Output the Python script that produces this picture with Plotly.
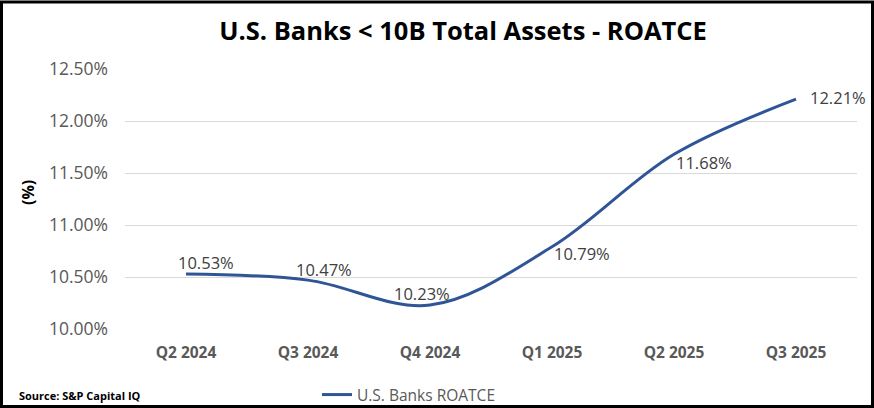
import plotly.graph_objects as go

quarters = ["Q2 2024", "Q3 2024", "Q4 2024", "Q1 2025", "Q2 2025", "Q3 2025"]
roatce = [10.53, 10.47, 10.23, 10.79, 11.68, 12.21]
label_texts = ["10.53%", "10.47%", "10.23%", "10.79%", "11.68%", "12.21%"]
y_ticks = [10.0, 10.5, 11.0, 11.5, 12.0, 12.5]

# label offsets in pixels (style only)
label_dx = [20, 16, -8, 30, 30, 42]
label_dy = [11, 11, 12, -7, -8, 2]

W, H = 874, 408
L, R, T, B = 125, 17, 69, 79
PW, PH = W - L - R, H - T - B

FONT = "Open Sans"
LINE_COLOR = "#2F5597"

fig = go.Figure()
fig.add_trace(go.Scatter(
    x=quarters, y=roatce, mode="lines",
    line=dict(color=LINE_COLOR, width=3, shape="spline", smoothing=1.0),
    name="U.S. Banks ROATCE",
))

for q, v, t, dx, dy in zip(quarters, roatce, label_texts, label_dx, label_dy):
    fig.add_annotation(x=q, y=v, xref="x", yref="y", text=t, showarrow=False,
                       xshift=dx, yshift=dy,
                       font=dict(family=FONT, size=16.5, color="#404040"))

def px_x(p):
    return (p - L) / PW

def px_y(p):
    return (H - B - p) / PH

fig.add_annotation(xref="paper", yref="paper", x=px_x(28), y=px_y(193),
                   xanchor="center", yanchor="middle",
                   text="<b>(%)</b>", textangle=-90, showarrow=False,
                   font=dict(family=FONT, size=16, color="#000000"))
fig.add_annotation(xref="paper", yref="paper", x=px_x(17), y=px_y(395),
                   xanchor="left", yanchor="middle",
                   text="<b>Source: S&P Capital IQ</b>", showarrow=False,
                   font=dict(family=FONT, size=11, color="#000000"))

fig.add_shape(type="rect", xref="paper", yref="paper",
              x0=px_x(1.5), x1=px_x(W - 1.5), y0=px_y(H - 1.5), y1=px_y(2),
              line=dict(color="#000000", width=3), layer="above")

fig.update_layout(
    width=W, height=H,
    margin=dict(l=L, r=R, t=T, b=B),
    paper_bgcolor="white", plot_bgcolor="white",
    title=dict(text="<b>U.S. Banks < 10B Total Assets - ROATCE</b>",
               xref="container", yref="container",
               x=463 / W, y=1 - 31 / H, xanchor="center", yanchor="middle",
               font=dict(family=FONT, size=25.5, color="#000000")),
    showlegend=True,
    legend=dict(orientation="h", xref="container", yref="container",
                x=317 / W, y=1 - 395 / H, xanchor="left", yanchor="middle",
                font=dict(family=FONT, size=15.5, color="#595959"),
                bgcolor="rgba(0,0,0,0)"),
    xaxis=dict(type="category", range=[-0.5, 5.5],
               showgrid=False, showline=False, zeroline=False,
               ticks="", ticklabelstandoff=12,
               tickfont=dict(family=FONT, size=15.5, color="#595959", weight="bold")),
    yaxis=dict(range=[10.0, 12.5], tickvals=y_ticks,
               ticktext=[f"{v:.2f}%" for v in y_ticks],
               showgrid=True, gridcolor="#D9D9D9", gridwidth=1,
               showline=False, zeroline=False, ticks="", ticklabelstandoff=16,
               tickfont=dict(family=FONT, size=17.5, color="#595959")),
)

fig.write_html("out.html", config={"displayModeBar": False},
               post_script="document.body.style.margin='0px';")
